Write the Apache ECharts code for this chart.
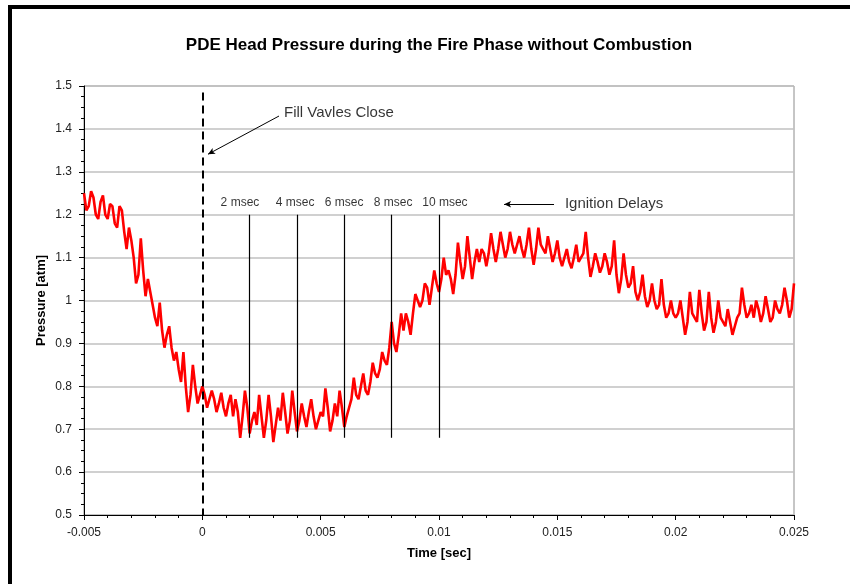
<!DOCTYPE html>
<html>
<head>
<meta charset="utf-8">
<script src="https://cdn.jsdelivr.net/npm/echarts@6/dist/echarts.min.js"></script>
<style>
  html, body { margin: 0; padding: 0; background: #fff; }
  #chart { width: 850px; height: 584px; }
</style>
</head>
<body>
<div id="chart"></div>
<script>
// sample times [sec]
const times = [
  -0.005, -0.0048, -0.0046, -0.0044, -0.0042, -0.004, -0.0038, -0.0036, -0.0034, -0.0032,
  -0.003, -0.0028, -0.0026, -0.0024, -0.0022, -0.002, -0.0018, -0.0016, -0.0014, -0.0012,
  -0.001, -0.0008, -0.0006, -0.0004, -0.0002, 0, 0.0002, 0.0004, 0.0006, 0.0008,
  0.001, 0.0012, 0.0014, 0.0016, 0.0018, 0.002, 0.0022, 0.0024, 0.0026, 0.0028,
  0.003, 0.0032, 0.0034, 0.0036, 0.0038, 0.004, 0.0042, 0.0044, 0.0046, 0.0048,
  0.005, 0.0052, 0.0054, 0.0056, 0.0058, 0.006, 0.0062, 0.0064, 0.0066, 0.0068,
  0.007, 0.0072, 0.0074, 0.0076, 0.0078, 0.008, 0.0082, 0.0084, 0.0086, 0.0088,
  0.009, 0.0092, 0.0094, 0.0096, 0.0098, 0.01, 0.0102, 0.0104, 0.0106, 0.0108,
  0.011, 0.0112, 0.0114, 0.0116, 0.0118, 0.012, 0.0122, 0.0124, 0.0126, 0.0128,
  0.013, 0.0132, 0.0134, 0.0136, 0.0138, 0.014, 0.0142, 0.0144, 0.0146, 0.0148,
  0.015, 0.0152, 0.0154, 0.0156, 0.0158, 0.016, 0.0162, 0.0164, 0.0166, 0.0168,
  0.017, 0.0172, 0.0174, 0.0176, 0.0178, 0.018, 0.0182, 0.0184, 0.0186, 0.0188,
  0.019, 0.0192, 0.0194, 0.0196, 0.0198, 0.02, 0.0202, 0.0204, 0.0206, 0.0208,
  0.021, 0.0212, 0.0214, 0.0216, 0.0218, 0.022, 0.0222, 0.0224, 0.0226, 0.0228,
  0.023, 0.0232, 0.0234, 0.0236, 0.0238, 0.024, 0.0242, 0.0244, 0.0246, 0.0248,
  0.025
];

// head pressure [atm] at those times
const pressure = [
  1.25, 1.22, 1.24, 1.19, 1.245, 1.19, 1.22, 1.17, 1.21, 1.12,
  1.14, 1.04, 1.145, 1.01, 1.02, 0.96, 0.995, 0.89, 0.94, 0.86,
  0.84, 0.88, 0.74, 0.85, 0.76, 0.80, 0.75, 0.79, 0.74, 0.785,
  0.73, 0.78, 0.77, 0.68, 0.79, 0.69, 0.74, 0.78, 0.68, 0.78,
  0.67, 0.75, 0.785, 0.69, 0.79, 0.695, 0.76, 0.705, 0.77, 0.70,
  0.74, 0.795, 0.695, 0.76, 0.79, 0.705, 0.75, 0.82, 0.77, 0.83,
  0.78, 0.855, 0.82, 0.88, 0.85, 0.95, 0.88, 0.97, 0.97, 0.92,
  1.015, 0.985, 1.04, 0.99, 1.07, 1.02, 1.10, 1.07, 1.015, 1.135,
  1.05, 1.15, 1.05, 1.12, 1.12, 1.08, 1.157, 1.09, 1.16, 1.10,
  1.16, 1.11, 1.15, 1.10, 1.17, 1.083, 1.17, 1.12, 1.15, 1.09,
  1.14, 1.08, 1.12, 1.075, 1.13, 1.10, 1.16, 1.055, 1.11, 1.065,
  1.11, 1.06, 1.14, 1.017, 1.11, 1.03, 1.08, 1.00, 1.06, 0.985,
  1.04, 0.98, 1.05, 0.96, 1.00, 0.96, 1.00, 0.92, 1.02, 0.96,
  1.025, 0.93, 1.02, 0.925, 1.00, 0.95, 0.98, 0.92, 0.96, 1.03,
  0.96, 0.99, 1.00, 0.95, 1.01, 0.95, 1.00, 0.97, 1.03, 0.96,
  1.04
];

// in-between samples [sec] and their pressure [atm]
const midTimes = [
  -0.0049, -0.0047, -0.0045, -0.0043, -0.0041, -0.0039, -0.0037, -0.0035, -0.0033, -0.0031,
  -0.0029, -0.0027, -0.0025, -0.0023, -0.0021, -0.0019, -0.0017, -0.0015, -0.0013, -0.0011,
  -0.0009, -0.0007, -0.0005, -0.0003, -0.0001, 0.0001, 0.0003, 0.0005, 0.0007, 0.0009,
  0.0011, 0.0013, 0.0015, 0.0017, 0.0019, 0.0021, 0.0023, 0.0025, 0.0027, 0.0029,
  0.0031, 0.0033, 0.0035, 0.0037, 0.0039, 0.0041, 0.0043, 0.0045, 0.0047, 0.0049,
  0.0051, 0.0053, 0.0055, 0.0057, 0.0059, 0.0061, 0.0063, 0.0065, 0.0067, 0.0069,
  0.0071, 0.0073, 0.0075, 0.0077, 0.0079, 0.0081, 0.0083, 0.0085, 0.0087, 0.0089,
  0.0091, 0.0093, 0.0095, 0.0097, 0.0099, 0.0101, 0.0103, 0.0105, 0.0107, 0.0109,
  0.0111, 0.0113, 0.0115, 0.0117, 0.0119, 0.0121, 0.0123, 0.0125, 0.0127, 0.0129,
  0.0131, 0.0133, 0.0135, 0.0137, 0.0139, 0.0141, 0.0143, 0.0145, 0.0147, 0.0149,
  0.0151, 0.0153, 0.0155, 0.0157, 0.0159, 0.0161, 0.0163, 0.0165, 0.0167, 0.0169,
  0.0171, 0.0173, 0.0175, 0.0177, 0.0179, 0.0181, 0.0183, 0.0185, 0.0187, 0.0189,
  0.0191, 0.0193, 0.0195, 0.0197, 0.0199, 0.0201, 0.0203, 0.0205, 0.0207, 0.0209,
  0.0211, 0.0213, 0.0215, 0.0217, 0.0219, 0.0221, 0.0223, 0.0225, 0.0227, 0.0229,
  0.0231, 0.0233, 0.0235, 0.0237, 0.0239, 0.0241, 0.0243, 0.0245, 0.0247, 0.0249
];
const midPressure = [
  1.21, 1.255, 1.20, 1.23, 1.20, 1.225, 1.18, 1.22, 1.16, 1.17,
  1.10, 1.06, 1.07, 1.05, 0.99, 0.94, 0.93, 0.92, 0.89, 0.88,
  0.81, 0.80, 0.78, 0.80, 0.78, 0.78, 0.77, 0.77, 0.76, 0.75,
  0.76, 0.73, 0.74, 0.73, 0.75, 0.72, 0.71, 0.73, 0.72, 0.73,
  0.71, 0.72, 0.74, 0.72, 0.74, 0.72, 0.73, 0.74, 0.73, 0.72,
  0.73, 0.75, 0.72, 0.73, 0.75, 0.73, 0.77, 0.78, 0.80, 0.79,
  0.81, 0.83, 0.84, 0.86, 0.89, 0.90, 0.92, 0.93, 0.95, 0.97,
  1.00, 1.00, 1.03, 1.03, 1.04, 1.05, 1.06, 1.05, 1.06, 1.09,
  1.08, 1.10, 1.09, 1.09, 1.11, 1.11, 1.12, 1.12, 1.13, 1.12,
  1.13, 1.13, 1.12, 1.13, 1.12, 1.12, 1.13, 1.11, 1.12, 1.11,
  1.10, 1.10, 1.09, 1.10, 1.09, 1.11, 1.10, 1.08, 1.09, 1.08,
  1.09, 1.08, 1.06, 1.05, 1.06, 1.04, 1.02, 1.02, 1.01, 1.00,
  1.00, 0.99, 0.99, 0.97, 0.97, 0.97, 0.96, 0.95, 0.97, 0.95,
  0.97, 0.95, 0.96, 0.95, 0.96, 0.94, 0.95, 0.94, 0.97, 0.99,
  0.97, 0.96, 0.98, 0.97, 0.98, 0.96, 0.98, 0.99, 1.00, 0.98
];

// ignition delay markers
const delayTimes = [0.002, 0.004, 0.006, 0.008, 0.010];
const delayLabels = ['2 msec', '4 msec', '6 msec', '8 msec', '10 msec'];
const delayLabelTimes = [0.00159, 0.00392, 0.00599, 0.00806, 0.01025];
const delayTop = 1.2;
const delayBottom = 0.68;
const delayLabelY = 1.227;

// fill valves close
const valveTime = 0;

const chart = echarts.init(document.getElementById('chart'));
const FONT = 'Liberation Sans, Arial, sans-serif';

function fmt(v) {
  return String(+v.toFixed(4));
}

const trace = times.map((t, i) => [t, pressure[i]])
  .concat(midTimes.map((t, i) => [t, midPressure[i]]))
  .sort((a, b) => a[0] - b[0]);

const option = {
  backgroundColor: '#ffffff',
  animation: false,
  title: {
    text: 'PDE Head Pressure during the Fire Phase without Combustion',
    left: 434,
    textAlign: 'center',
    top: 32,
    textStyle: { fontFamily: FONT, fontSize: 17, fontWeight: 'bold', color: '#000' }
  },
  grid: {
    left: 84, right: 56, top: 86, bottom: 69,
    show: true, borderColor: '#8c8c8c', borderWidth: 1, backgroundColor: '#fff'
  },
  xAxis: {
    type: 'value',
    min: -0.005, max: 0.025, interval: 0.005,
    name: 'Time [sec]',
    nameLocation: 'middle',
    nameGap: 32,
    nameTextStyle: { fontFamily: FONT, fontSize: 13, fontWeight: 'bold', color: '#000' },
    axisLine: { onZero: false, lineStyle: { color: '#000', width: 1 } },
    axisTick: { show: true, length: 5, lineStyle: { color: '#000' } },
    minorTick: { show: true, splitNumber: 5, length: 3, lineStyle: { color: '#000' } },
    axisLabel: { fontFamily: FONT, fontSize: 12, color: '#222', margin: 12, formatter: fmt },
    splitLine: { show: false }
  },
  yAxis: {
    type: 'value',
    min: 0.5, max: 1.5, interval: 0.1,
    name: 'Pressure [atm]',
    nameLocation: 'middle',
    nameGap: 36,
    nameMoveOverlap: false,
    nameTextStyle: { fontFamily: FONT, fontSize: 13, fontWeight: 'bold', color: '#000' },
    axisLine: { show: true, onZero: false, lineStyle: { color: '#000', width: 1 } },
    axisTick: { show: true, length: 5, lineStyle: { color: '#000' } },
    minorTick: { show: true, splitNumber: 4, length: 3, lineStyle: { color: '#000' } },
    axisLabel: { fontFamily: FONT, fontSize: 12, color: '#222', margin: 12, formatter: fmt },
    splitLine: { show: true, lineStyle: { color: '#c0c0c0', width: 1.5 } }
  },
  series: [
    {
      name: 'Pressure',
      type: 'line',
      data: trace,
      showSymbol: false,
      lineStyle: { color: '#ff0000', width: 2.6 },
      z: 3,
      markLine: {
        silent: true,
        symbol: ['none', 'none'],
        label: { show: false },
        lineStyle: { color: '#000', type: 'solid', width: 1.2 },
        data: delayTimes.map(t => [
          { coord: [t, delayTop] },
          { coord: [t, delayBottom] }
        ]).concat([
          [
            { coord: [valveTime, 1.485], lineStyle: { type: [8, 5], width: 2 } },
            { coord: [valveTime, 0.5] }
          ]
        ])
      }
    },
    {
      name: 'Arrows',
      type: 'line',
      data: [],
      markLine: {
        silent: true,
        symbol: ['none', 'arrow'],
        symbolSize: [5, 7],
        label: { show: false },
        lineStyle: { color: '#000', type: 'solid', width: 1 },
        data: [
          [{ coord: [0.00324, 1.43] }, { coord: [0.00024, 1.341] }],
          [{ coord: [0.01486, 1.2243] }, { coord: [0.01275, 1.2243] }]
        ]
      }
    },
    {
      name: 'Notes',
      type: 'scatter',
      symbolSize: 0,
      silent: true,
      z: 5,
      data: delayLabelTimes.map((t, i) => ({
        value: [t, delayLabelY],
        label: { formatter: delayLabels[i] }
      })).concat([
        { value: [0.00345, 1.437], label: { formatter: 'Fill Vavles Close', fontSize: 15, align: 'left' } },
        { value: [0.01532, 1.2243], label: { formatter: 'Ignition Delays', fontSize: 15, align: 'left' } }
      ]),
      label: {
        show: true,
        position: 'inside',
        align: 'center',
        verticalAlign: 'middle',
        fontFamily: FONT,
        fontSize: 12,
        color: '#000'
      }
    }
  ],
  graphic: [
    { type: 'rect', shape: { x: 8, y: 5, width: 842, height: 4 }, style: { fill: '#000' } },
    { type: 'rect', shape: { x: 8, y: 5, width: 4, height: 579 }, style: { fill: '#000' } }
  ]
};

chart.setOption(option);
</script>
</body>
</html>
